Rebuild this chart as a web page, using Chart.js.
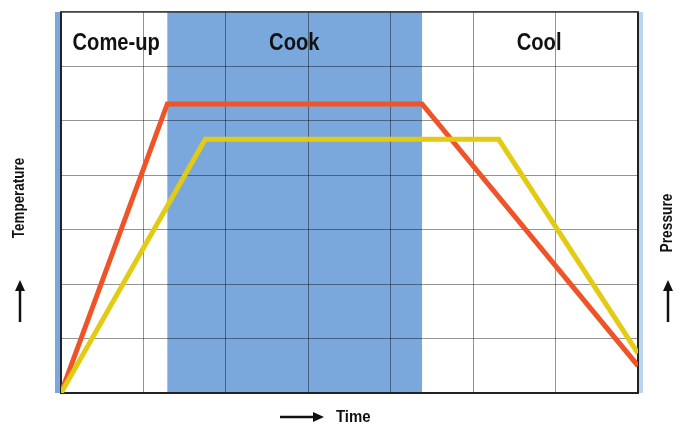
<!DOCTYPE html>
<html>
<head>
<meta charset="utf-8">
<script src="https://cdn.jsdelivr.net/npm/chart.js@4.4.1/dist/chart.umd.min.js"></script>
<style>
    html, body { margin: 0; padding: 0; background: #ffffff; }
    #wrap { width: 688px; height: 426px; position: relative; }
</style>
</head>
<body>
<div id="wrap"><canvas id="process-chart"></canvas></div>
<script>
// DATA
// ---------------------------------------------------
const timeTemperature = [ 0, 1.29, 4.38, 7 ];
const temperature = [ 0, 5.31, 5.31, 0.5 ];
const timePressure = [ 0, 1.75, 5.31, 7 ];
const pressure = [ 0, 4.66, 4.66, 0.73 ];
const phaseNames = [ 'Come-up', 'Cook', 'Cool' ];
const phaseCenters = [ 0.67, 2.83, 5.8 ];
const cookBand = [ 1.29, 4.38 ];

// helpers
function arrow( ctx, x1, y1, x2, y2 ) {
    const a = Math.atan2( y2 - y1, x2 - x1 );
    ctx.save();
    ctx.strokeStyle = '#111';
    ctx.fillStyle = '#111';
    ctx.lineWidth = 2.5;
    ctx.beginPath();
    ctx.moveTo( x1, y1 );
    ctx.lineTo( x2 - 8 * Math.cos( a ), y2 - 8 * Math.sin( a ) );
    ctx.stroke();
    ctx.translate( x2, y2 );
    ctx.rotate( a );
    ctx.beginPath();
    ctx.moveTo( 0, 0 );
    ctx.lineTo( -11, -5 );
    ctx.lineTo( -11, 5 );
    ctx.closePath();
    ctx.fill();
    ctx.restore();
}

function narrowText( ctx, txt, x, y, size, sx ) {
    ctx.save();
    ctx.translate( x, y );
    ctx.scale( sx, 1 );
    ctx.font = 'bold ' + size + 'px "Liberation Sans", Arial, sans-serif';
    ctx.fillText( txt, 0, 0 );
    ctx.restore();
}

// BAND + FRAME PLUGIN
// ---------------------------------------------------
const backdrop = {
    id: 'backdrop',
    beforeDraw( chart ) {
        const ctx = chart.ctx;
        const a = chart.chartArea;
        const xs = chart.scales.x;
        ctx.save();
        ctx.fillStyle = '#7ba8dc';
        const b0 = xs.getPixelForValue( cookBand[ 0 ] );
        const b1 = xs.getPixelForValue( cookBand[ 1 ] );
        ctx.fillRect( b0, a.top, b1 - b0, a.bottom - a.top );
        // side strips
        ctx.fillRect( a.left - 6, a.top, 6, a.bottom - a.top );
        ctx.fillStyle = '#b9d5f2';
        ctx.fillRect( a.right, a.top, 5, a.bottom - a.top );
        ctx.restore();
    },
    afterDraw( chart ) {
        const ctx = chart.ctx;
        const xs = chart.scales.x;
        ctx.save();
        ctx.fillStyle = '#111';
        ctx.textAlign = 'center';
        ctx.textBaseline = 'middle';
        phaseNames.forEach( function ( name, i ) {
            narrowText( ctx, name, xs.getPixelForValue( phaseCenters[ i ] ), 43, 24, 0.84 );
        });
        // Temperature
        ctx.save();
        ctx.translate( 20, 198 );
        ctx.rotate( -Math.PI / 2 );
        narrowText( ctx, 'Temperature', 0, 0, 16, 0.84 );
        ctx.restore();
        arrow( ctx, 20, 322, 20, 280 );
        // Pressure
        ctx.save();
        ctx.translate( 668, 223 );
        ctx.rotate( -Math.PI / 2 );
        narrowText( ctx, 'Pressure', 0, 0, 16, 0.86 );
        ctx.restore();
        arrow( ctx, 668, 322, 668, 280 );
        // Time
        ctx.textAlign = 'left';
        narrowText( ctx, 'Time', 336, 417, 17, 0.88 );
        arrow( ctx, 280, 417, 324, 417 );
        ctx.restore();
    }
};

// CHART
// ---------------------------------------------------
const gridStyle = { color: 'rgba(0, 0, 0, 0.42)', lineWidth: 1, drawTicks: false };
const plotChart = document.querySelector( '#process-chart' );
const processChart = new Chart( plotChart, {
    type: 'line',
    data: {
        datasets: [
            {
                label: 'Pressure',
                data: timePressure.map( function ( t, i ) { return { x: t, y: pressure[ i ] }; } ),
                borderColor: '#e2cb12',
                borderWidth: 5,
                pointRadius: 0,
                tension: 0
            },
            {
                label: 'Temperature',
                data: timeTemperature.map( function ( t, i ) { return { x: t, y: temperature[ i ] }; } ),
                borderColor: '#ef5428',
                borderWidth: 5,
                pointRadius: 0,
                tension: 0
            }
        ]
    },
    options: {
        responsive: true,
        maintainAspectRatio: false,
        animation: false,
        layout: {
            padding: { left: 61, right: 50, top: 12, bottom: 33 }
        },
        plugins: {
            legend: { display: false },
            tooltip: { enabled: false }
        },
        scales: {
            x: {
                type: 'linear',
                min: 0,
                max: 7,
                ticks: { display: false, stepSize: 1 },
                grid: gridStyle,
                border: { color: '#222', width: 2 }
            },
            y: {
                type: 'linear',
                min: 0,
                max: 7,
                ticks: { display: false, stepSize: 1 },
                grid: gridStyle,
                border: { color: '#222', width: 2 }
            },
            y2: {
                type: 'linear',
                position: 'right',
                min: 0,
                max: 7,
                ticks: { display: false },
                grid: { display: false, drawTicks: false },
                border: { color: '#222', width: 2 }
            },
            x2: {
                type: 'linear',
                position: 'top',
                min: 0,
                max: 7,
                ticks: { display: false },
                grid: { display: false, drawTicks: false },
                border: { color: '#444', width: 1.5 }
            }
        }
    },
    plugins: [ backdrop ]
});
</script>
</body>
</html>
